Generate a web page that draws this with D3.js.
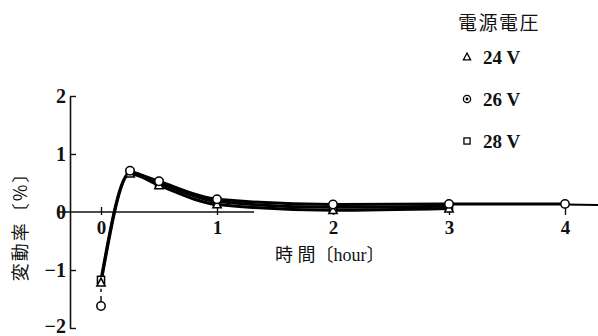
<!DOCTYPE html>
<html>
<head>
<meta charset="utf-8">
<script src="https://cdn.jsdelivr.net/npm/d3@7"></script>
<style>
  body { margin: 0; background: #fff; }
  svg { display: block; }
  text { fill: #111; }
</style>
</head>
<body>
<div id="chart"></div>
<script>
const width = 598;
const height = 336;

// values
const hours = [0, 0.25, 0.5, 1, 2, 3, 4];
const v24 = [-1.22, 0.66, 0.46, 0.13, 0.03, 0.06, null];
const v26 = [-1.62, 0.71, 0.53, 0.22, 0.13, 0.14, 0.14];
const v28 = [-1.17, 0.68, 0.50, 0.18, 0.08, 0.10, null];
const tailHours = [4, 4.35];
const tailValues = [0.13, 0.12];
const xTicks = [0, 1, 2, 3, 4];
const yTicks = [-2, -1, 0, 1, 2];
const seriesNames = ['24 V', '26 V', '28 V'];
const seriesShapes = ['triangle', 'circle', 'square'];

const x = d3.scaleLinear().domain([0, 4]).range([101, 565]);
const y = d3.scaleLinear().domain([-2, 2]).range([328, 96]);

const svg = d3.select('#chart')
    .append('svg')
    .attr('width', width)
    .attr('height', height);

const serif = '"Liberation Serif", "Noto Sans CJK JP", serif';
const cjk = '"Noto Sans CJK JP", sans-serif';

// y axis
const yAxis = svg.append('g')
    .attr('transform', `translate(70,0)`)
    .call(d3.axisLeft(y).tickValues(yTicks).tickSize(-6).tickSizeOuter(0).tickPadding(4)
        .tickFormat(d3.format('d')));
yAxis.select('.domain').attr('stroke', '#111').attr('stroke-width', 1.6);
yAxis.selectAll('.tick line').attr('stroke', '#111').attr('stroke-width', 1.4)
    .filter(d => d === 0).remove();
yAxis.selectAll('.tick text')
    .attr('font-family', serif)
    .attr('font-weight', 'bold')
    .attr('font-size', 20)
    .attr('dy', d => d === -2 ? '0.2em' : '0.32em')
    .attr('fill', '#111');

// x axis line (broken off where the curves run along it)
svg.append('line')
    .attr('x1', 58).attr('x2', x(1.32))
    .attr('y1', y(0)).attr('y2', y(0))
    .attr('stroke', '#111').attr('stroke-width', 1.6);

const xAxis = svg.append('g')
    .attr('transform', `translate(0,${y(0) - 5})`)
    .call(d3.axisBottom(x).tickValues(xTicks).tickSize(8).tickPadding(6).tickFormat(d3.format('d')));
xAxis.select('.domain').remove();
xAxis.selectAll('.tick line').attr('stroke', '#111').attr('stroke-width', 1.4);
xAxis.selectAll('.tick text')
    .attr('font-family', serif)
    .attr('font-weight', 'bold')
    .attr('font-size', 19)
    .attr('fill', '#111');

// curves
const rows = (vals) => hours.map((h, i) => ({ h, v: vals[i] })).filter(d => d.v !== null);
const line = d3.line()
    .x(d => x(d.h))
    .y(d => y(d.v))
    .curve(d3.curveMonotoneX);

const lines = svg.append('g')
    .attr('fill', 'none')
    .attr('stroke', '#000')
    .attr('stroke-width', 3);

lines.append('path').attr('d', line(rows(v24)));
lines.append('path').attr('d', line(rows(v28)));
lines.append('path').attr('d', line(rows(v26).slice(1)));
lines.append('path')
    .attr('stroke-width', 2)
    .attr('d', line(tailHours.map((h, i) => ({ h, v: tailValues[i] }))));

// dashed join from the 26 V start point up to the other two
lines.append('line')
    .attr('x1', x(hours[0])).attr('x2', x(hours[0]))
    .attr('y1', y(v26[0]) - 5).attr('y2', y(v24[0]) + 6)
    .attr('stroke-width', 1.4)
    .attr('stroke-dasharray', '5,4');

// markers
function drawMarker(g, shape, cx, cy, s) {
    if (shape === 'circle') {
        g.append('circle').attr('cx', cx).attr('cy', cy).attr('r', s);
    } else if (shape === 'triangle') {
        g.append('path').attr('d', `M${cx},${cy - s * 1.1}L${cx + s},${cy + s * 0.8}L${cx - s},${cy + s * 0.8}Z`);
    } else {
        g.append('rect').attr('x', cx - s * 0.85).attr('y', cy - s * 0.85)
            .attr('width', s * 1.7).attr('height', s * 1.7);
    }
}

const marks = svg.append('g')
    .attr('fill', '#fff')
    .attr('stroke', '#000')
    .attr('stroke-width', 1.5);

[v28, v24, v26].forEach((vals, k) => {
    const shape = ['square', 'triangle', 'circle'][k];
    hours.forEach((h, i) => {
        if (vals[i] === null) return;
        drawMarker(marks, shape, x(h), y(vals[i]), 4.2);
    });
});

// axis titles
svg.append('text')
    .attr('transform', `translate(27,222) rotate(-90)`)
    .attr('text-anchor', 'middle')
    .attr('font-family', cjk)
    .attr('font-size', 18)
    .attr('letter-spacing', 2)
    .text('変動率〔%〕');

svg.append('text')
    .attr('x', 275)
    .attr('y', 261)
    .attr('font-family', serif)
    .attr('font-size', 18)
    .text('時 間〔hour〕');

// legend
svg.append('text')
    .attr('x', 458)
    .attr('y', 30)
    .attr('font-family', cjk)
    .attr('font-size', 19)
    .attr('letter-spacing', 1.5)
    .text('電源電圧');

const legend = svg.append('g');
seriesNames.forEach((name, i) => {
    const ly = 57 + i * 42;
    const g = legend.append('g')
        .attr('fill', 'none')
        .attr('stroke', '#000')
        .attr('stroke-width', 1.3);
    drawMarker(g, seriesShapes[i], 467, ly, 3.6);
    if (seriesShapes[i] === 'circle') {
        g.append('circle').attr('cx', 467).attr('cy', ly).attr('r', 0.8).attr('fill', '#000');
    }
    legend.append('text')
        .attr('x', 483)
        .attr('y', ly + 7)
        .attr('font-family', serif)
        .attr('font-weight', 'bold')
        .attr('font-size', 19)
        .text(name);
});
</script>
</body>
</html>
